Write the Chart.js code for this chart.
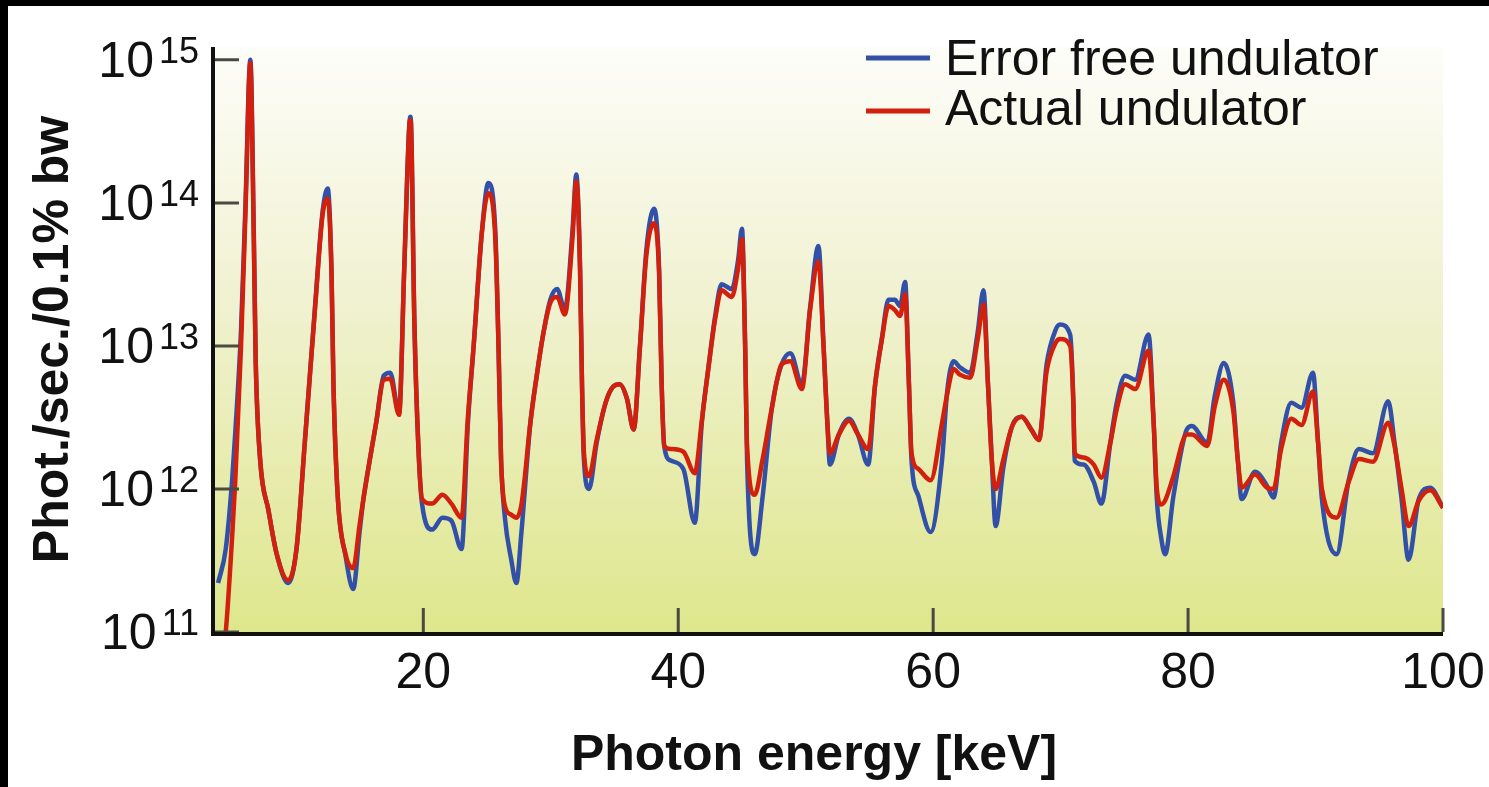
<!DOCTYPE html>
<html>
<head>
<meta charset="utf-8">
<title>Undulator spectrum</title>
<script src="https://cdn.jsdelivr.net/npm/chart.js@4/dist/chart.umd.min.js"></script>
<style>
  html, body { margin: 0; padding: 0; background: #fff; }
  #chart { display: block; }
</style>
</head>
<body>
<canvas id="chart" width="1489" height="787"></canvas>
<script>
// photon energy in keV
const energy = [
  3.9, 4.5, 5.0, 5.25, 5.7, 6.05, 6.43, 6.7, 6.85, 7.2,
  7.85, 8.5, 9.4, 10.05, 10.7, 11.5, 12.1, 12.5, 12.8, 12.95,
  13.3, 13.9, 14.5, 15.0, 15.3, 15.8, 16.3, 16.9, 17.4, 18.1,
  18.5, 18.9, 19.0, 19.3, 19.6, 19.9, 20.7, 21.5, 22.2, 23.0,
  23.5, 23.95, 24.6, 25.1, 25.65, 25.9, 26.1, 26.4, 26.9, 27.3,
  27.7, 28.4, 28.9, 29.4, 29.96, 30.5, 31.1, 31.7, 32.0, 32.3,
  32.45, 32.6, 33.0, 33.6, 34.3, 34.9, 35.4, 35.97, 36.5, 37.0,
  37.5, 38.1, 38.5, 38.7, 38.9, 39.4, 40.4, 41.3, 41.85, 42.4,
  42.9, 43.4, 44.2, 44.7, 45.0, 45.25, 45.4, 46.0, 46.6, 47.35,
  48.1, 48.8, 49.7, 50.35, 51.0, 51.4, 51.7, 51.9, 52.6, 53.4,
  54.1, 54.9, 55.45, 55.97, 56.5, 57.0, 57.4, 57.8, 58.1, 58.3,
  58.85, 59.8, 60.7, 61.1, 61.6, 62.1, 62.9, 63.5, 63.95, 64.3,
  64.6, 64.9, 65.5, 66.2, 66.95, 67.7, 68.3, 68.9, 69.6, 69.96,
  70.75, 71.0, 71.1, 71.8, 72.6, 73.2, 73.9, 74.4, 75.06, 75.85,
  76.9, 77.3, 77.55, 77.9, 78.2, 78.85, 79.9, 80.3, 81.5, 82.1,
  82.8, 83.55, 83.9, 84.2, 85.25, 86.2, 86.7, 87.3, 88.1, 88.9,
  89.8, 90.2, 90.5, 91.65, 92.6, 93.4, 94.5, 95.7, 96.2, 96.75,
  97.3, 98.1, 99.0, 100
];

// Phot./sec./0.1% bw
const errorFree = [
  2.2e11, 3.8e11, 1.15e12, 2.5e12, 1.3e13, 1.0e14, 1.0e15, 6.3e13, 7.9e12, 1.6e12,
  7.1e11, 3.5e11, 2.2e11, 3.8e11, 2.1e12, 1.86e13, 8.7e13, 1.26e14, 3.2e13, 5.4e12,
  8.5e11, 3.4e11, 2.0e11, 5.0e11, 8.5e11, 1.6e12, 2.9e12, 6.2e12, 6.5e12, 3.4e12,
  3.4e13, 3.5e14, 4.0e14, 1.45e13, 2.1e12, 7.9e11, 5.2e11, 6.3e11, 6.0e11, 3.8e11,
  2.9e12, 1.0e13, 6.3e13, 1.38e14, 6.3e13, 1.0e13, 1.6e12, 6.3e11, 3.2e11, 2.2e11,
  5.0e11, 2.9e12, 6.2e12, 1.2e13, 2.1e13, 2.5e13, 1.8e13, 6.3e13, 1.58e14, 3.4e13,
  5.4e12, 1.6e12, 1.0e12, 2.1e12, 4.0e12, 5.2e12, 5.4e12, 4.3e12, 2.6e12, 1.0e13,
  4.7e13, 9.1e13, 3.4e13, 5.4e12, 2.0e12, 1.58e12, 1.38e12, 5.8e11, 2.9e12, 7.4e12,
  1.62e13, 2.7e13, 2.5e13, 4.0e13, 6.6e13, 1.0e13, 1.6e12, 3.5e11, 8.5e11, 3.7e12,
  7.4e12, 8.9e12, 5.4e12, 1.86e13, 5.0e13, 1.0e13, 2.9e12, 1.48e12, 2.4e12, 3.1e12,
  2.4e12, 1.48e12, 5.4e12, 1.12e13, 2.1e13, 2.1e13, 1.9e13, 2.8e13, 5.4e12, 1.6e12,
  8.9e11, 5.0e11, 1.6e12, 4.8e12, 7.8e12, 7.1e12, 6.5e12, 1.26e13, 2.45e13, 5.4e12,
  1.6e12, 5.5e11, 1.4e12, 2.75e12, 3.2e12, 2.6e12, 2.2e12, 7.4e12, 1.29e13, 1.41e13,
  1.2e13, 4.0e12, 1.58e12, 1.48e12, 1.12e12, 7.9e11, 2.1e12, 4.0e12, 6.2e12, 5.8e12,
  1.2e13, 2.9e12, 8.5e11, 4.5e11, 3.5e11, 8.9e11, 2.6e12, 2.75e12, 2.1e12, 4.5e12,
  7.6e12, 4.0e12, 1.6e12, 8.5e11, 1.32e12, 1.05e12, 8.7e11, 2.1e12, 4.0e12, 3.7e12,
  6.5e12, 2.1e12, 8.5e11, 3.5e11, 1.15e12, 1.9e12, 1.78e12, 4.1e12, 2.1e12, 8.5e11,
  3.2e11, 8.5e11, 1.02e12, 7.4e11
];

const actual = [
  4.0e10, 1.0e11, 4.6e11, 1.15e12, 1.0e13, 8.7e13, 9.5e14, 5.6e13, 7.9e12, 1.6e12,
  7.1e11, 3.5e11, 2.3e11, 3.8e11, 2.1e12, 1.8e13, 8.3e13, 1.07e14, 3.2e13, 5.4e12,
  8.5e11, 3.5e11, 2.8e11, 5.6e11, 8.5e11, 1.6e12, 2.9e12, 5.8e12, 5.9e12, 3.3e12,
  3.4e13, 3.4e14, 3.8e14, 1.45e13, 2.1e12, 8.5e11, 7.9e11, 9.1e11, 7.9e11, 6.3e11,
  3.2e12, 1.0e13, 6.3e13, 1.17e14, 5.6e13, 1.0e13, 1.6e12, 7.6e11, 6.6e11, 6.3e11,
  7.8e11, 2.9e12, 6.2e12, 1.2e13, 2.0e13, 2.2e13, 1.66e13, 5.6e13, 1.41e14, 3.4e13,
  5.4e12, 1.8e12, 1.23e12, 2.2e12, 4.0e12, 5.2e12, 5.4e12, 4.3e12, 2.6e12, 1.0e13,
  4.3e13, 7.2e13, 3.2e13, 5.4e12, 2.0e12, 1.9e12, 1.82e12, 1.29e12, 3.0e12, 7.4e12,
  1.55e13, 2.45e13, 2.2e13, 3.5e13, 5.6e13, 1.0e13, 2.0e12, 9.1e11, 1.58e12, 3.7e12,
  7.4e12, 7.8e12, 5.0e12, 1.8e13, 3.9e13, 1.0e13, 2.9e12, 1.78e12, 2.4e12, 3.0e12,
  2.4e12, 1.9e12, 5.4e12, 1.1e13, 1.9e13, 1.78e13, 1.62e13, 2.3e13, 5.4e12, 1.8e12,
  1.38e12, 1.15e12, 2.9e12, 4.6e12, 6.9e12, 6.3e12, 6.0e12, 1.12e13, 1.95e13, 5.4e12,
  1.6e12, 1.0e12, 1.6e12, 2.75e12, 3.2e12, 2.6e12, 2.2e12, 6.6e12, 1.05e13, 1.12e13,
  1.0e13, 4.0e12, 1.78e12, 1.66e12, 1.48e12, 1.2e12, 2.1e12, 3.6e12, 5.4e12, 5.0e12,
  9.3e12, 2.9e12, 1.0e12, 7.8e11, 8.3e11, 1.23e12, 2.4e12, 2.4e12, 2.0e12, 3.8e12,
  5.8e12, 3.5e12, 1.6e12, 1.02e12, 1.26e12, 1.02e12, 1.0e12, 1.9e12, 3.1e12, 2.8e12,
  4.8e12, 2.1e12, 1.0e12, 6.3e11, 1.12e12, 1.62e12, 1.55e12, 2.9e12, 2.0e12, 1.0e12,
  5.5e11, 8.3e11, 9.8e11, 7.4e11
];

const seriesLabels = ['Error free undulator', 'Actual undulator'];
const seriesColors = ['#3350a8', '#d2200e'];
const xTicks = [20, 40, 60, 80, 100];
const yTicks = [1e11, 1e12, 1e13, 1e14, 1e15];
const yTickExp = ['11', '12', '13', '14', '15'];
const xTitle = 'Photon energy [keV]';
const yTitle = 'Phot./sec./0.1% bw';

const FONT = '"Liberation Sans", Arial, Helvetica, sans-serif';

// background, black frame, axes, ticks and legend drawn around the library's scales
const decorations = {
  id: 'decorations',
  beforeDraw(chart) {
    const { ctx, chartArea: a, width, height } = chart;
    ctx.save();
    ctx.fillStyle = '#fff';
    ctx.fillRect(0, 0, width, height);
    ctx.fillStyle = '#000';
    ctx.fillRect(0, 0, width, 6);
    ctx.fillRect(0, 0, 8, height);

    const g = ctx.createLinearGradient(0, a.top, 0, a.bottom);
    g.addColorStop(0, '#fdfdf9');
    g.addColorStop(0.45, '#f0f1cf');
    g.addColorStop(1, '#dee78c');
    ctx.fillStyle = g;
    ctx.fillRect(a.left, a.top, a.right - a.left, a.bottom - a.top);
    ctx.restore();
  },
  afterDraw(chart) {
    const { ctx, chartArea: a, scales } = chart;
    const xs = scales.x, ys = scales.y;
    ctx.save();

    // inward tick marks
    ctx.strokeStyle = '#4a4a40';
    ctx.lineWidth = 3;
    ctx.beginPath();
    yTicks.forEach(v => {
      const y = ys.getPixelForValue(v);
      ctx.moveTo(a.left, y);
      ctx.lineTo(a.left + 26, y);
    });
    xTicks.forEach(v => {
      const x = xs.getPixelForValue(v);
      ctx.moveTo(x, a.bottom);
      ctx.lineTo(x, a.bottom - 24);
    });
    ctx.stroke();

    // axis lines
    ctx.strokeStyle = '#111';
    ctx.lineWidth = 4;
    ctx.beginPath();
    ctx.moveTo(a.left, a.top);
    ctx.lineTo(a.left, a.bottom + 2);
    ctx.lineTo(a.right, a.bottom + 2);
    ctx.stroke();

    // y tick labels: 10 with superscript exponent
    ctx.fillStyle = '#111';
    ctx.textAlign = 'right';
    ctx.textBaseline = 'alphabetic';
    yTicks.forEach((v, i) => {
      const y = ys.getPixelForValue(v);
      ctx.font = '36px ' + FONT;
      const w = ctx.measureText(yTickExp[i]).width;
      ctx.fillText(yTickExp[i], 199, y + 3);
      ctx.font = '50px ' + FONT;
      ctx.fillText('10', 199 - w - 5, y + 17);
    });

    // x tick labels
    ctx.textAlign = 'center';
    ctx.font = '50px ' + FONT;
    xTicks.forEach(v => {
      ctx.fillText(String(v), xs.getPixelForValue(v), 688);
    });

    // axis titles
    ctx.font = 'bold 50px ' + FONT;
    ctx.fillText(xTitle, 814, 770);
    ctx.save();
    ctx.translate(54, (a.top + a.bottom) / 2);
    ctx.rotate(-Math.PI / 2);
    ctx.textBaseline = 'middle';
    ctx.fillText(yTitle, 0, 0);
    ctx.restore();

    // legend
    ctx.font = '50px ' + FONT;
    ctx.textAlign = 'left';
    ctx.textBaseline = 'alphabetic';
    const rows = [{ lineY: 58, textY: 75 }, { lineY: 111, textY: 125 }];
    seriesLabels.forEach((label, i) => {
      ctx.strokeStyle = seriesColors[i];
      ctx.lineWidth = 5;
      ctx.beginPath();
      ctx.moveTo(866, rows[i].lineY);
      ctx.lineTo(930, rows[i].lineY);
      ctx.stroke();
      ctx.fillStyle = '#111';
      ctx.fillText(label, 945, rows[i].textY);
    });

    ctx.restore();
  }
};

const ctx = document.getElementById('chart').getContext('2d');
new Chart(ctx, {
  type: 'line',
  data: {
    datasets: [
      {
        label: seriesLabels[0],
        data: energy.map((x, i) => ({ x: x, y: errorFree[i] })),
        borderColor: seriesColors[0],
        borderWidth: 4.5,
        order: 1
      },
      {
        label: seriesLabels[1],
        data: energy.map((x, i) => ({ x: x, y: actual[i] })),
        borderColor: seriesColors[1],
        borderWidth: 4.5,
        order: 0
      }
    ]
  },
  options: {
    responsive: false,
    devicePixelRatio: 1,
    animation: false,
    layout: { padding: { left: 0, top: 47, right: 46, bottom: 0 } },
    elements: {
      point: { radius: 0 },
      line: { cubicInterpolationMode: 'monotone', fill: false }
    },
    plugins: {
      legend: { display: false },
      tooltip: { enabled: false }
    },
    scales: {
      x: {
        type: 'linear',
        min: 3.5,
        max: 100,
        grid: { display: false },
        border: { display: false },
        ticks: { display: false },
        afterFit: s => { s.height = 155; }
      },
      y: {
        type: 'logarithmic',
        min: 1e11,
        max: 1.23e15,
        grid: { display: false },
        border: { display: false },
        ticks: { display: false },
        afterFit: s => { s.width = 213; }
      }
    }
  },
  plugins: [decorations]
});
</script>
</body>
</html>
